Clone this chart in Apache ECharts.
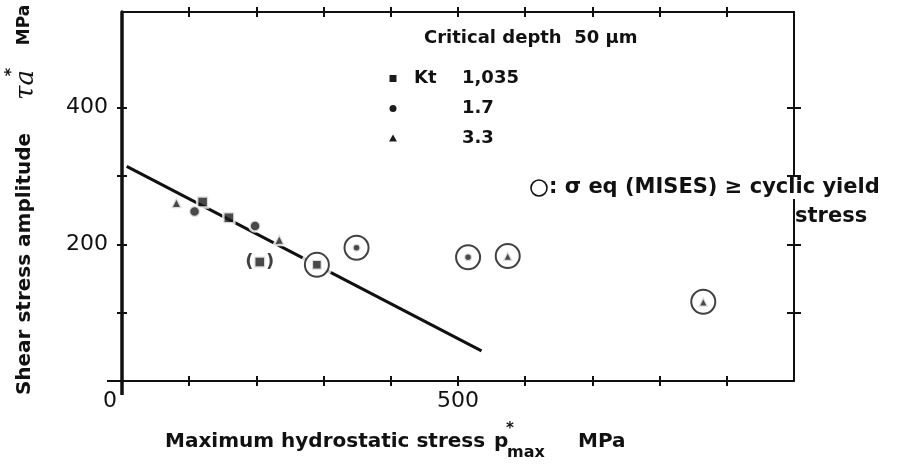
<!DOCTYPE html>
<html style="height: 100%">
<head>
<meta charset="utf-8">
<script type="text/javascript" src="https://cdn.jsdelivr.net/npm/echarts@6/dist/echarts.min.js"></script>
</head>
<body style="height: 100%; margin: 0; background: #fff">
<div id="main" style="width: 901px; height: 466px"></div>
<script type="text/javascript">
// points: [p*max (MPa), tau*a (MPa)]
// mark: '' plain, 'ring' = sigma eq (MISES) >= cyclic yield stress, 'paren' = bracketed point
var squarePts = [[120, 262], [159, 239], [205, 174], [290, 170]];   // Kt 1,035
var squareMark = ['', '', 'paren', 'ring'];
var dotPts = [[108, 248], [198, 227], [349, 195], [515, 181]];      // Kt 1.7
var dotMark = ['', '', 'ring', 'ring'];
var trianglePts = [[81, 261], [234, 207], [574, 183], [865, 116]];  // Kt 3.3
var triangleMark = ['', '', 'ring', 'ring'];
var fitLine = [[7, 314], [535, 44]];

var xTicks = [100, 200, 300, 400, 500, 600, 700, 800, 900];
var yTicks = [100, 200, 300, 400];
var xTickLabels = [0, 500];
var yTickLabels = [200, 400];
var ktLabels = ['1,035', '1.7', '3.3'];

var INK = '#111';
var BOLD = 'bold 20px "DejaVu Sans"';
var LEG = 'bold 18px "DejaVu Sans"';
var gridL = 122, gridR = 107, gridT = 12, gridB = 85;

var chart = echarts.init(document.getElementById('main'));

function markData(pts, marks, size, ringSize) {
    return pts.map(function (p, i) {
        var item = { value: p, symbolSize: marks[i] === 'ring' ? ringSize : size };
        if (marks[i] === 'paren') {
            item.label = {
                show: true, position: 'inside', formatter: '(  )',
                color: INK, fontFamily: 'DejaVu Sans', fontWeight: 'bold', fontSize: 18
            };
        }
        return item;
    });
}

var ringPts = [];
[[squarePts, squareMark], [dotPts, dotMark], [trianglePts, triangleMark]].forEach(function (g) {
    g[0].forEach(function (p, i) { if (g[1][i] === 'ring') ringPts.push(p); });
});

function xAx(pos, inside, line) {
    return {
        type: 'value', position: pos, min: 0, max: 1000, interval: 100,
        axisLine: { show: line, onZero: false, lineStyle: { color: INK, width: 2 } },
        axisTick: { show: true, inside: inside, length: 5, customValues: xTicks, lineStyle: { color: INK, width: 2 } },
        axisLabel: { show: false },
        splitLine: { show: false }
    };
}
function yAx(pos, inside, line, width, len) {
    return {
        type: 'value', position: pos, min: 0, max: 540, interval: 100,
        axisLine: { show: line, onZero: false, lineStyle: { color: INK, width: width } },
        axisTick: { show: true, inside: inside, length: len, customValues: yTicks, lineStyle: { color: INK, width: 2 } },
        axisLabel: { show: false },
        splitLine: { show: false }
    };
}

var xMain = xAx('bottom', false, true);
xMain.axisLabel = {
    show: true, customValues: xTickLabels, margin: 9,
    color: INK, fontFamily: 'DejaVu Sans', fontSize: 22,
    formatter: function (v) { return v === 0 ? '{z|0}' : String(v); },
    rich: { z: { color: INK, fontFamily: 'DejaVu Sans', fontSize: 22, padding: [0, 24, 0, 0] } }
};
var yMain = yAx('left', false, true, 3.5, 5);
yMain.axisLabel = {
    show: true, customValues: yTickLabels, margin: 14,
    color: INK, fontFamily: 'DejaVu Sans', fontSize: 22
};

var markerStyle = { color: '#1c1c1c', borderColor: '#fff', borderWidth: 2.5 };

function txt(x, y, text, font, extra) {
    var style = { text: text, font: font, fill: INK, textAlign: 'left', textVerticalAlign: 'middle', align: 'left', verticalAlign: 'middle' };
    for (var k in extra || {}) style[k] = extra[k];
    return { type: 'text', x: x, y: y, style: style };
}
function vtxt(x, y, text, font) {
    return {
        type: 'text', x: x, y: y, rotation: Math.PI / 2,
        style: { text: text, font: font, fill: INK, textAlign: 'center', textVerticalAlign: 'middle', align: 'center', verticalAlign: 'middle' }
    };
}

var option = {
    animation: false,
    backgroundColor: '#fff',
    grid: { left: gridL, right: gridR, top: gridT, bottom: gridB },
    xAxis: [xMain, xAx('bottom', true, false), xAx('top', false, true), xAx('top', true, false)],
    yAxis: [yMain, yAx('left', true, false, 3, 5), yAx('right', false, true, 2, 7), yAx('right', true, false, 2, 7)],
    series: [
        // empty series so every frame axis is bound to the grid
        { type: 'line', data: [], xAxisIndex: 1, yAxisIndex: 1 },
        { type: 'line', data: [], xAxisIndex: 2, yAxisIndex: 2 },
        { type: 'line', data: [], xAxisIndex: 3, yAxisIndex: 3 },
        {
            type: 'line', data: fitLine, symbol: 'none', z: 2, silent: true,
            lineStyle: { color: INK, width: 3 }
        },
        {
            type: 'scatter', data: ringPts, symbol: 'circle', symbolSize: 32, z: 3, silent: true,
            itemStyle: { color: '#fff' }
        },
        {
            type: 'scatter', data: ringPts, symbol: 'circle', symbolSize: 24, z: 4, silent: true,
            itemStyle: { color: '#fff', borderColor: INK, borderWidth: 2 }
        },
        {
            name: ktLabels[0], type: 'scatter', symbol: 'rect', z: 5, silent: true,
            data: markData(squarePts, squareMark, 11, 10), itemStyle: markerStyle
        },
        {
            name: ktLabels[1], type: 'scatter', symbol: 'circle', z: 5, silent: true,
            data: markData(dotPts, dotMark, 11, 8), itemStyle: markerStyle
        },
        {
            name: ktLabels[2], type: 'scatter', symbol: 'triangle', z: 5, silent: true,
            data: markData(trianglePts, triangleMark, 11, 10), itemStyle: markerStyle
        }
    ],
    graphic: [
        // axis overhang at the origin
        { type: 'line', shape: { x1: gridL, y1: 466 - gridB, x2: gridL, y2: 466 - gridB + 14 }, style: { stroke: INK, lineWidth: 3.5 } },
        { type: 'line', shape: { x1: gridL - 15, y1: 466 - gridB, x2: gridL, y2: 466 - gridB }, style: { stroke: INK, lineWidth: 2 } },
        // y axis title
        vtxt(25, 264, 'Shear stress amplitude', BOLD),
        vtxt(26, 85, 'τa', 'italic 26px "DejaVu Serif"'),
        vtxt(12, 72, '*', 'bold 16px "DejaVu Sans"'),
        vtxt(25, 25, 'MPa', 'bold 17px "DejaVu Sans"'),
        // x axis title
        txt(165, 442, 'Maximum hydrostatic stress', BOLD),
        txt(494, 442, 'p', BOLD),
        txt(506, 429, '*', 'bold 15px "DejaVu Sans"'),
        txt(507, 453, 'max', 'bold 16px "DejaVu Sans"'),
        txt(578, 442, 'MPa', BOLD),
        // legend block
        txt(424, 38, 'Critical depth  50 μm', LEG),
        { type: 'rect', shape: { x: 389.5, y: 75, width: 7, height: 7 }, style: { fill: '#1c1c1c' } },
        { type: 'circle', shape: { cx: 393, cy: 108.5, r: 3.5 }, style: { fill: '#1c1c1c' } },
        { type: 'polygon', shape: { points: [[393, 134.5], [389, 141.5], [397, 141.5]] }, style: { fill: '#1c1c1c' } },
        txt(414, 78.5, 'Kt', LEG),
        txt(462, 78.5, ktLabels[0], LEG),
        txt(462, 108.5, ktLabels[1], LEG),
        txt(462, 138.5, ktLabels[2], LEG),
        // ring note, drawn over the right frame
        { type: 'circle', z: 100, shape: { cx: 539, cy: 188, r: 8 }, style: { fill: '#fff', stroke: INK, lineWidth: 1.6 } },
        (function () {
            var t = txt(549, 188, ': σ eq (MISES) ≥ cyclic yield', 'bold 21px "DejaVu Sans"', { backgroundColor: '#fff', lineHeight: 22 });
            t.z = 100;
            return t;
        })(),
        txt(795, 217, 'stress', 'bold 21px "DejaVu Sans"')
    ]
};

chart.setOption(option);
</script>
</body>
</html>
